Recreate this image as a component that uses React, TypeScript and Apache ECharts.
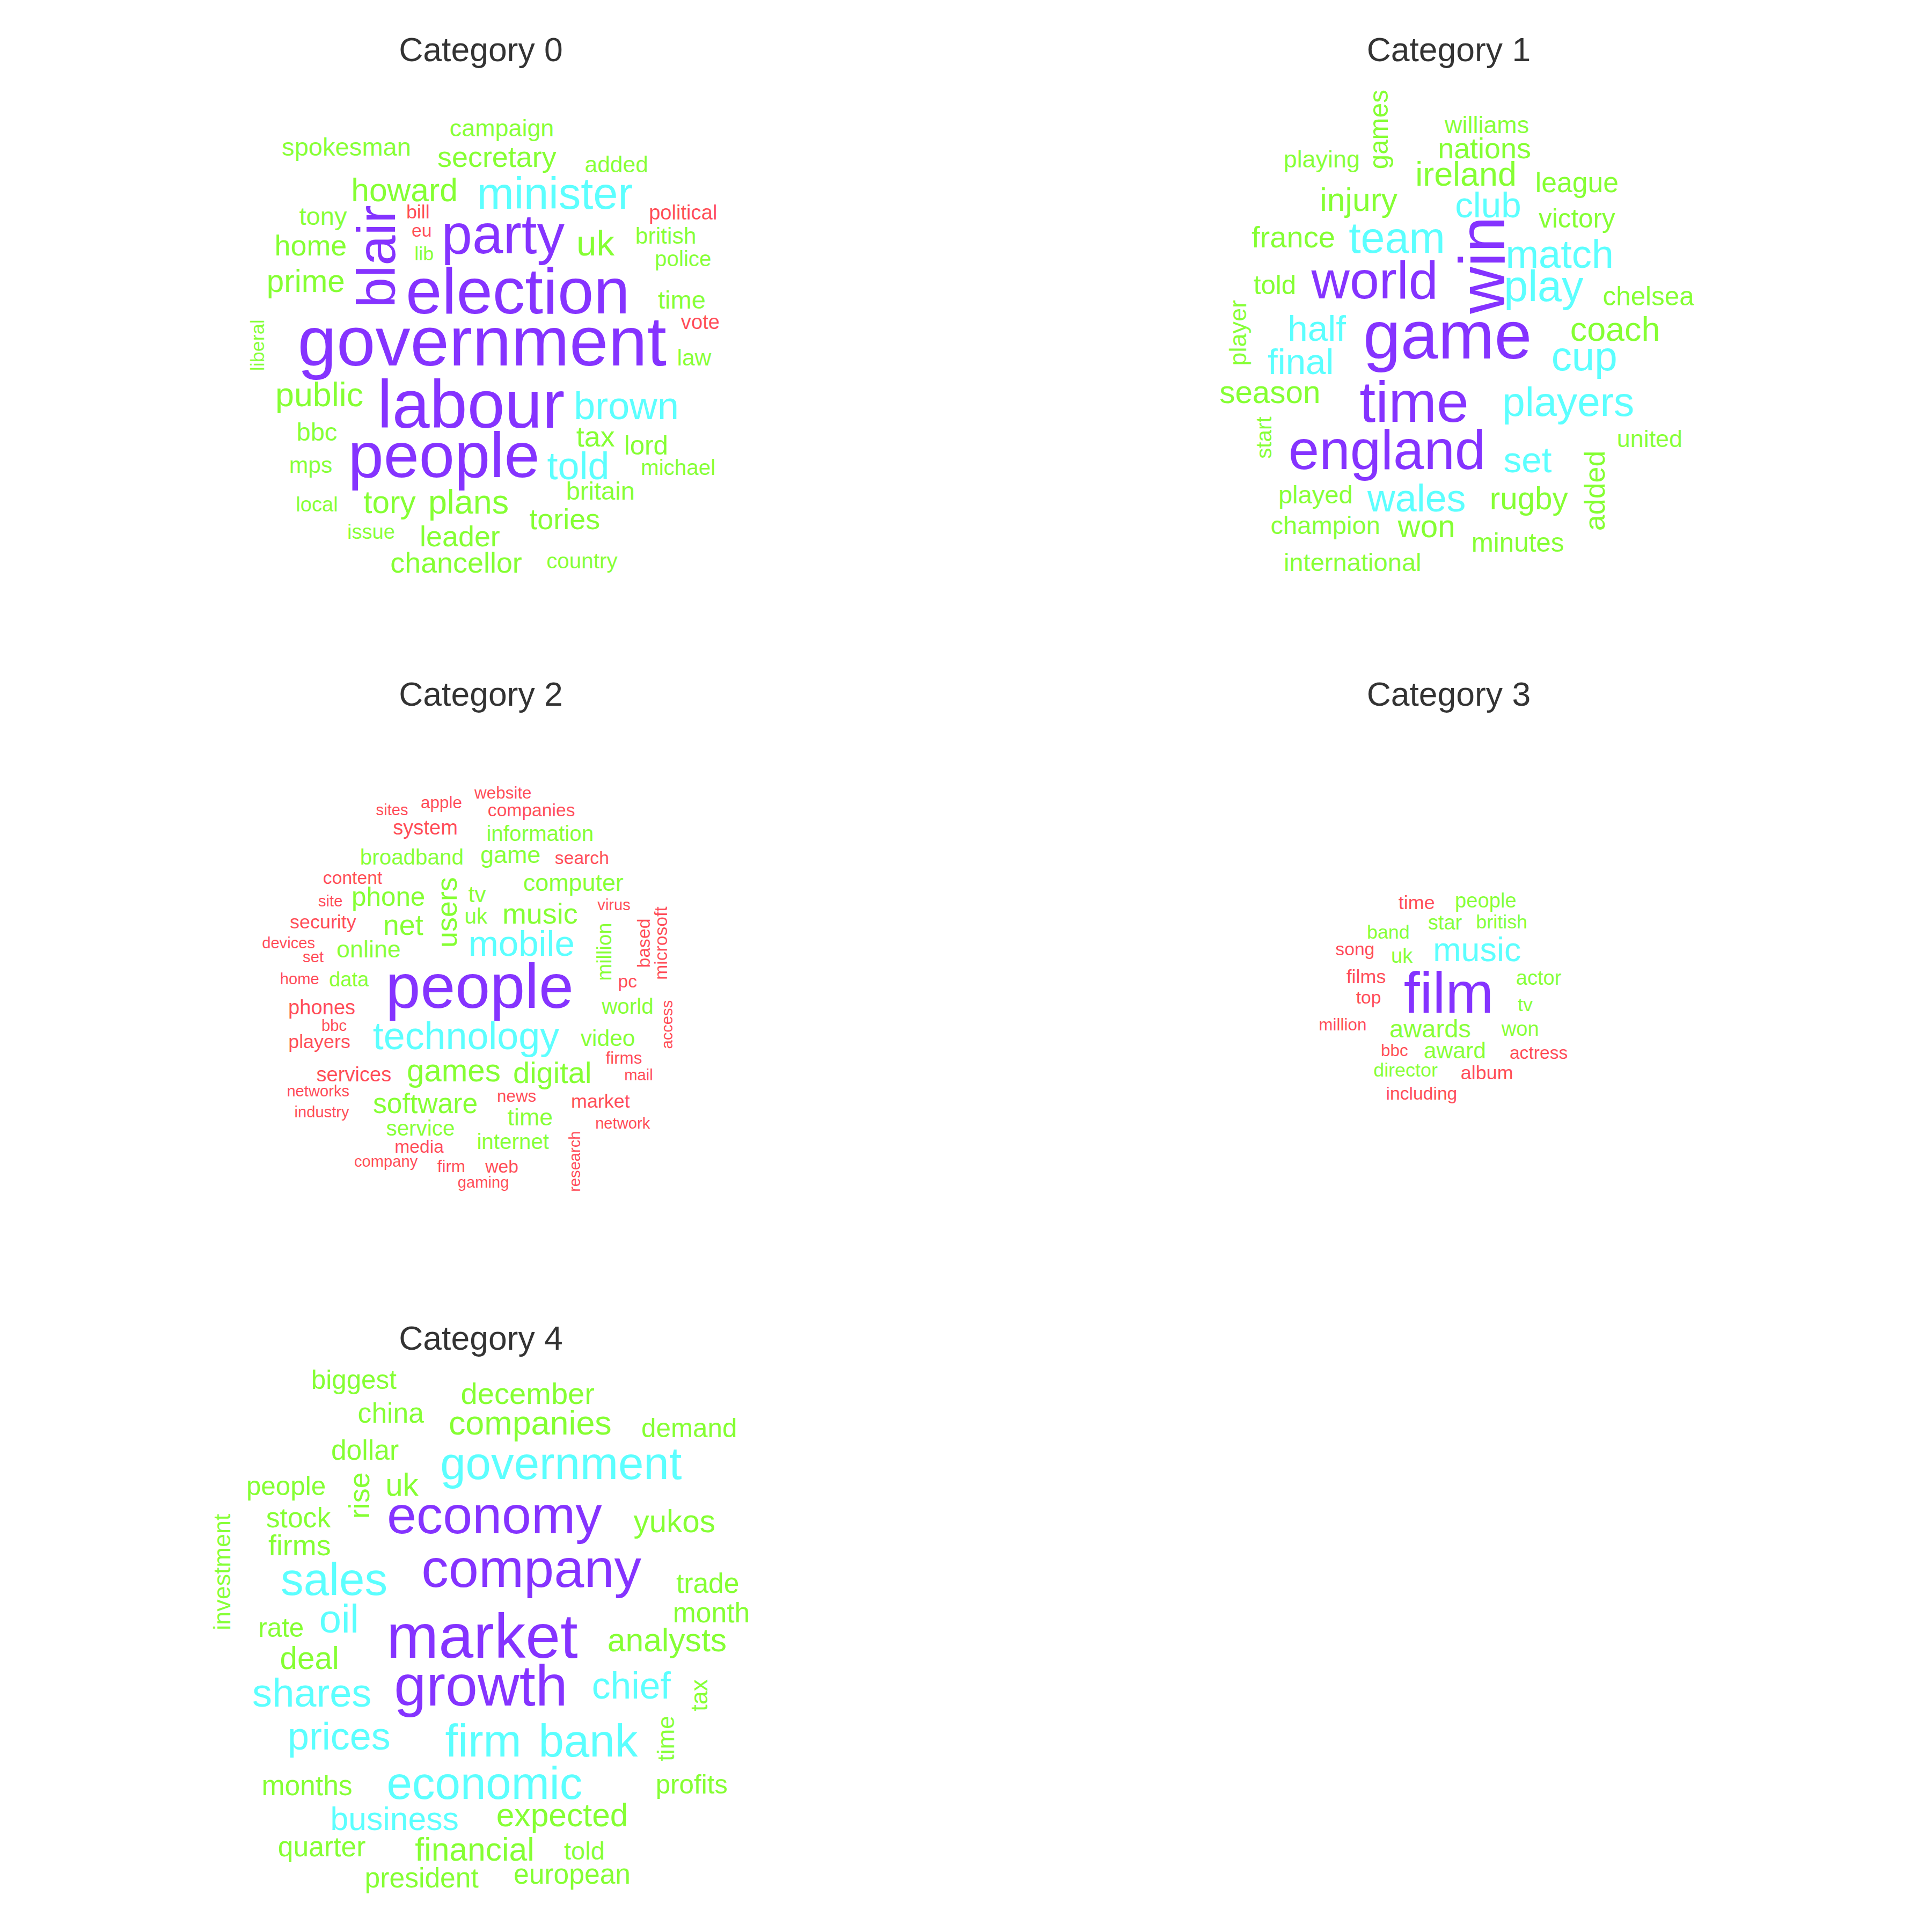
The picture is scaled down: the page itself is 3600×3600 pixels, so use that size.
import { useEffect, useRef } from 'react'
import * as echarts from 'echarts'

// Word clouds laid out in a frame, scaled to 3600px.
const FRAME = 1567
const PURPLE = '#6600FF'
const CYAN = '#33FFFF'
const GREEN = '#66FF00'
const RED = '#FF1A2A'

type W = [string, number, number, number, string, number?]

const titles: [string, number, number][] = [
  ['Category 0', 390, 40],
  ['Category 1', 1175, 40],
  ['Category 2', 390, 563],
  ['Category 3', 1175, 563],
  ['Category 4', 390, 1085],
]

const cat0: W[] = [
  ['campaign', 407, 104, 20, GREEN], ['spokesman', 281, 119, 21, GREEN], ['secretary', 403, 127, 24, GREEN],
  ['added', 500, 133, 19, GREEN], ['howard', 328, 154, 27, GREEN], ['minister', 450, 157, 37, CYAN],
  ['tony', 262, 175, 21, GREEN], ['bill', 339, 172, 16, RED], ['political', 554, 172, 17, RED],
  ['party', 408, 190, 46, PURPLE], ['eu', 342, 187, 15, RED], ['british', 540, 191, 19, GREEN],
  ['home', 252, 199, 24, GREEN], ['uk', 483, 197, 30, GREEN], ['blair', 305, 208, 45, PURPLE, 90],
  ['lib', 344, 206, 16, GREEN], ['police', 554, 210, 18, GREEN], ['prime', 248, 228, 26, GREEN],
  ['election', 420, 236, 54, PURPLE], ['time', 553, 243, 21, GREEN], ['vote', 568, 261, 17, RED],
  ['government', 391, 277, 58, PURPLE], ['liberal', 209, 280, 16, GREEN, 90], ['law', 563, 290, 19, GREEN],
  ['public', 259, 320, 28, GREEN], ['labour', 382, 328, 56, PURPLE], ['brown', 508, 329, 32, CYAN],
  ['bbc', 257, 350, 21, GREEN], ['tax', 483, 354, 24, GREEN], ['lord', 524, 361, 22, GREEN],
  ['people', 360, 369, 53, PURPLE], ['told', 469, 378, 32, CYAN], ['mps', 252, 377, 19, GREEN],
  ['michael', 550, 379, 18, GREEN], ['britain', 487, 398, 21, GREEN], ['tory', 316, 407, 26, GREEN],
  ['plans', 380, 407, 28, GREEN], ['local', 257, 409, 17, GREEN], ['tories', 458, 421, 24, GREEN],
  ['issue', 301, 431, 17, GREEN], ['leader', 373, 435, 24, GREEN], ['chancellor', 370, 456, 24, GREEN],
  ['country', 472, 455, 18, GREEN],
]

const cat1: W[] = [
  ['games', 1118, 105, 22, GREEN, 90], ['williams', 1206, 101, 20, GREEN], ['nations', 1204, 120, 24, GREEN],
  ['playing', 1072, 129, 20, GREEN], ['ireland', 1189, 141, 28, GREEN], ['league', 1279, 148, 23, GREEN],
  ['injury', 1102, 162, 27, GREEN], ['club', 1207, 166, 30, CYAN], ['victory', 1279, 177, 22, GREEN],
  ['france', 1049, 192, 25, GREEN], ['team', 1133, 193, 36, CYAN], ['win', 1202, 215, 54, PURPLE, 90],
  ['match', 1265, 206, 33, CYAN], ['told', 1034, 231, 22, GREEN], ['world', 1115, 227, 44, PURPLE],
  ['play', 1252, 232, 36, CYAN], ['chelsea', 1337, 240, 22, GREEN], ['player', 1004, 270, 20, GREEN, 90],
  ['half', 1068, 266, 30, CYAN], ['game', 1174, 272, 56, PURPLE], ['coach', 1310, 267, 28, GREEN],
  ['final', 1055, 293, 30, CYAN], ['cup', 1285, 289, 34, CYAN], ['season', 1030, 318, 26, GREEN],
  ['time', 1147, 326, 48, PURPLE], ['players', 1272, 326, 34, CYAN], ['start', 1025, 355, 18, GREEN, 90],
  ['england', 1125, 365, 46, PURPLE], ['united', 1338, 356, 20, GREEN], ['set', 1239, 373, 30, CYAN],
  ['added', 1293, 398, 24, GREEN, 90], ['played', 1067, 401, 21, GREEN], ['wales', 1149, 404, 32, CYAN],
  ['rugby', 1240, 404, 26, GREEN], ['champion', 1075, 426, 21, GREEN], ['won', 1157, 427, 26, GREEN],
  ['minutes', 1231, 440, 22, GREEN], ['international', 1097, 456, 21, GREEN],
]

const cat2: W[] = [
  ['website', 408, 643, 14, RED], ['sites', 318, 657, 13, RED], ['apple', 358, 651, 14, RED],
  ['companies', 431, 657, 15, RED], ['system', 345, 671, 17, RED], ['information', 438, 676, 18, GREEN],
  ['broadband', 334, 695, 18, GREEN], ['game', 414, 693, 20, GREEN], ['search', 472, 696, 15, RED],
  ['content', 286, 712, 15, RED], ['computer', 465, 716, 20, GREEN], ['site', 268, 731, 13, RED],
  ['phone', 315, 727, 22, GREEN], ['users', 362, 740, 24, GREEN, 90], ['tv', 387, 725, 19, GREEN],
  ['virus', 498, 734, 13, RED], ['microsoft', 536, 765, 15, RED, 90], ['security', 262, 748, 16, RED],
  ['net', 327, 750, 24, GREEN], ['uk', 386, 743, 18, GREEN], ['music', 438, 741, 24, GREEN],
  ['based', 522, 765, 15, RED, 90], ['devices', 234, 765, 13, RED], ['mobile', 423, 765, 30, CYAN],
  ['million', 490, 772, 17, GREEN, 90], ['set', 254, 776, 13, RED], ['online', 299, 770, 20, GREEN],
  ['home', 243, 794, 13, RED], ['data', 283, 794, 17, GREEN], ['people', 389, 800, 52, PURPLE],
  ['pc', 509, 796, 15, RED], ['world', 509, 816, 18, GREEN], ['phones', 261, 817, 17, RED],
  ['bbc', 271, 832, 13, RED], ['access', 541, 831, 13, RED, 90], ['technology', 378, 840, 32, CYAN],
  ['video', 493, 842, 19, GREEN], ['players', 259, 845, 16, RED], ['firms', 506, 858, 14, RED],
  ['services', 287, 871, 17, RED], ['games', 368, 868, 26, GREEN], ['digital', 448, 870, 25, GREEN],
  ['mail', 518, 872, 13, RED], ['networks', 258, 885, 13, RED], ['news', 419, 889, 14, RED],
  ['market', 487, 893, 16, RED], ['industry', 261, 902, 13, RED], ['software', 345, 895, 23, GREEN],
  ['time', 430, 906, 20, GREEN], ['network', 505, 911, 13, RED], ['service', 341, 915, 18, GREEN],
  ['research', 466, 942, 13, RED, 90], ['media', 340, 930, 15, RED], ['internet', 416, 926, 18, GREEN],
  ['company', 313, 942, 13, RED], ['firm', 366, 946, 14, RED], ['web', 407, 946, 15, RED],
  ['gaming', 392, 959, 13, RED],
]

const cat3: W[] = [
  ['time', 1149, 732, 16, RED], ['people', 1205, 730, 17, GREEN], ['band', 1126, 756, 16, GREEN],
  ['star', 1172, 748, 17, GREEN], ['british', 1218, 748, 16, GREEN], ['song', 1099, 770, 15, RED],
  ['uk', 1137, 775, 17, GREEN], ['music', 1198, 770, 28, CYAN], ['films', 1108, 792, 16, RED],
  ['film', 1175, 805, 48, PURPLE], ['actor', 1248, 793, 17, GREEN], ['top', 1110, 809, 15, RED],
  ['tv', 1237, 815, 16, GREEN], ['million', 1089, 831, 14, RED], ['awards', 1160, 834, 21, GREEN],
  ['won', 1233, 834, 17, GREEN], ['bbc', 1131, 852, 14, RED], ['award', 1180, 852, 19, GREEN],
  ['actress', 1248, 854, 15, RED], ['director', 1140, 868, 16, GREEN], ['album', 1206, 870, 16, RED],
  ['including', 1153, 887, 15, RED],
]

const cat4: W[] = [
  ['biggest', 287, 1119, 22, GREEN], ['december', 428, 1130, 25, GREEN], ['china', 317, 1146, 23, GREEN],
  ['companies', 430, 1154, 28, GREEN], ['demand', 559, 1158, 22, GREEN], ['dollar', 296, 1176, 23, GREEN],
  ['government', 455, 1187, 38, CYAN], ['people', 232, 1205, 22, GREEN], ['rise', 291, 1213, 24, GREEN, 90],
  ['uk', 326, 1204, 26, GREEN], ['economy', 401, 1229, 44, PURPLE], ['yukos', 547, 1234, 26, GREEN],
  ['stock', 242, 1231, 23, GREEN], ['investment', 180, 1275, 20, GREEN, 90], ['firms', 243, 1253, 24, GREEN],
  ['company', 431, 1272, 45, PURPLE], ['sales', 271, 1281, 38, CYAN], ['trade', 574, 1284, 23, GREEN],
  ['oil', 275, 1313, 33, CYAN], ['month', 577, 1308, 23, GREEN], ['rate', 228, 1320, 22, GREEN],
  ['market', 391, 1327, 52, PURPLE], ['analysts', 541, 1330, 27, GREEN], ['deal', 251, 1345, 26, GREEN],
  ['growth', 390, 1367, 48, PURPLE], ['shares', 253, 1373, 33, CYAN], ['chief', 512, 1367, 31, CYAN],
  ['tax', 567, 1375, 20, GREEN, 90], ['prices', 275, 1408, 32, CYAN], ['firm', 392, 1412, 38, CYAN],
  ['bank', 477, 1412, 38, CYAN], ['time', 540, 1410, 20, GREEN, 90], ['months', 249, 1448, 23, GREEN],
  ['economic', 393, 1446, 38, CYAN], ['profits', 561, 1447, 22, GREEN], ['business', 320, 1475, 27, CYAN],
  ['expected', 456, 1472, 27, GREEN], ['quarter', 261, 1498, 23, GREEN], ['financial', 385, 1500, 27, GREEN],
  ['told', 474, 1501, 21, GREEN], ['president', 342, 1523, 23, GREEN], ['european', 464, 1520, 23, GREEN],
]

const clouds = [cat0, cat1, cat2, cat3, cat4]

export default function App() {
  const ref = useRef<HTMLDivElement>(null)

  useEffect(() => {
    document.body.style.margin = '0'
    if (!ref.current) return
    const chart = echarts.init(ref.current, undefined, { renderer: 'svg' })
    const k = 3600 / 1556
    const font = 'Liberation Sans, Arial, sans-serif'

    const wordSeries = clouds.map((words, i) => ({
      type: 'scatter',
      name: `Category ${i}`,
      symbolSize: 0,
      silent: true,
      data: words.map(([t, x, y, s, c, r]) => ({
        name: t,
        value: [x, y],
        label: { fontSize: s * k * 0.97, color: c, rotate: r ?? 0 },
      })),
      label: { show: true, position: 'inside', formatter: '{b}', fontFamily: font },
    }))

    chart.setOption({
      animation: false,
      backgroundColor: '#ffffff',
      grid: { left: 0, right: 0, top: 0, bottom: 0 },
      xAxis: { type: 'value', min: 0, max: FRAME, show: false },
      yAxis: { type: 'value', min: 0, max: FRAME, inverse: true, show: false },
      series: [
        ...wordSeries,
        {
          type: 'scatter',
          name: 'titles',
          symbolSize: 0,
          silent: true,
          data: titles.map(([t, x, y]) => ({ name: t, value: [x, y] })),
          label: {
            show: true, position: 'inside', formatter: '{b}',
            fontFamily: font, fontSize: 27 * k, color: '#000000',
          },
        },
      ],
    })
    return () => chart.dispose()
  }, [])

  return <div ref={ref} style={{ width: 3600, height: 3600 }} />
}
